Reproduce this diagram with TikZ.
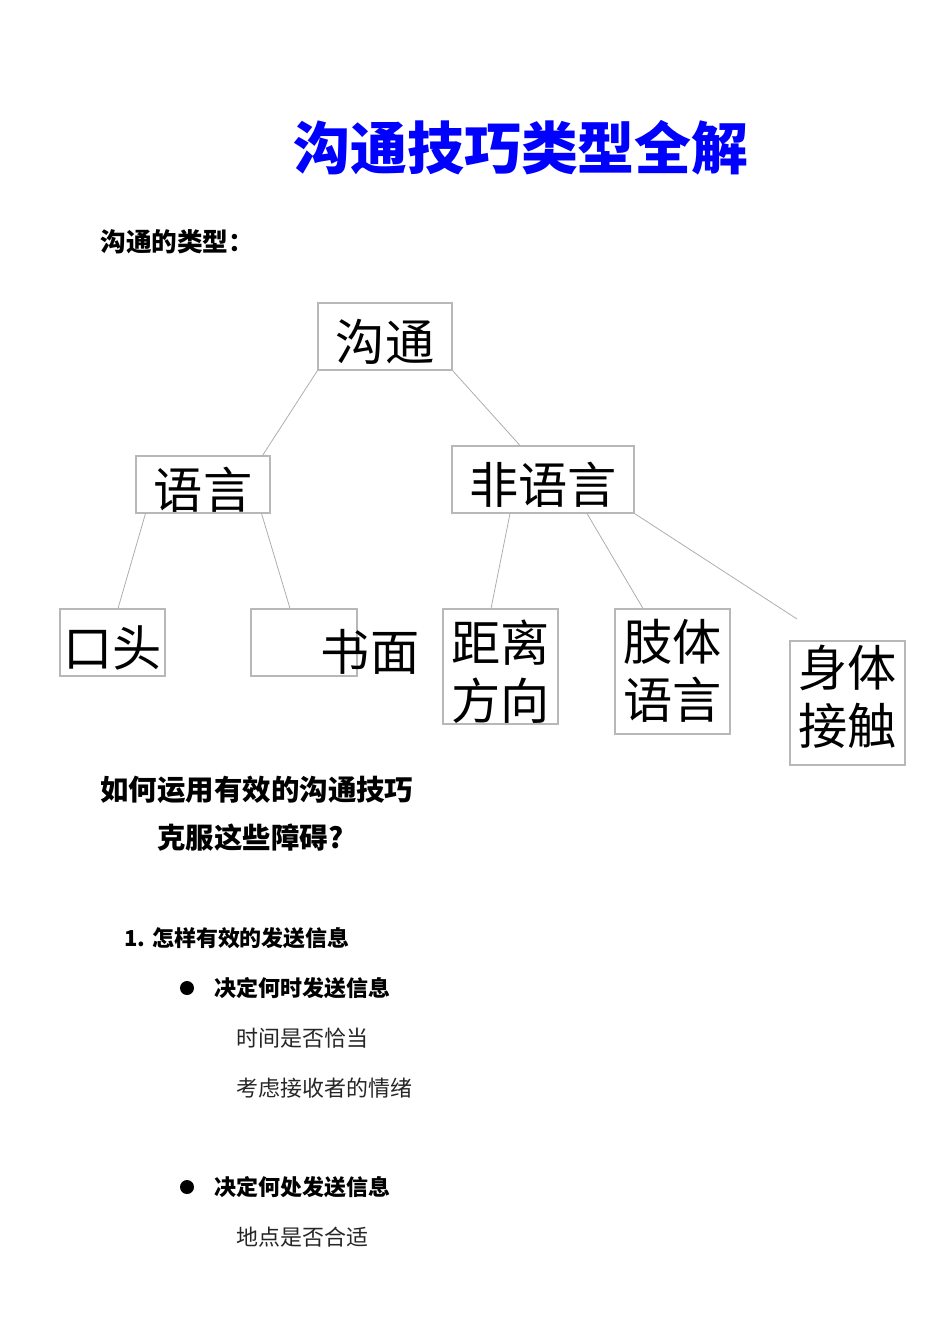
\documentclass[tikz,border=0pt]{standalone}
\usepackage{fontspec}
\newfontfamily\cjk{Noto Sans CJK SC}
\usetikzlibrary{positioning}

\begin{document}
\begin{tikzpicture}[x=0.02cm,y=-0.02cm,
    box/.style={draw=black!28,line width=0.6pt,inner sep=0pt,align=center,text height=30pt,
      font=\cjk\fontsize{28}{33}\selectfont},
    twoline/.style={box,text height=63pt},
    link/.style={draw=black!32,line width=0.45pt},
    head/.style={anchor=west,inner sep=0pt,font=\cjk\bfseries\fontsize{16.2}{20}\selectfont},
    item/.style={anchor=west,inner sep=0pt,font=\cjk\bfseries\fontsize{12.5}{15}\selectfont},
    plain/.style={anchor=west,inner sep=0pt,text=black!85,font=\cjk\fontsize{12.5}{15}\selectfont},
    dot/.style={circle,fill=black,inner sep=0pt,minimum size=0.28cm}]
    \useasboundingbox (0,0) rectangle (950,1344);
    % title
    \node[text=blue,font=\cjk\bfseries\fontsize{32.4}{38}\selectfont] (title) at (521,148) {沟通技巧类型全解};
    \node[anchor=west,inner sep=0pt,font=\cjk\bfseries\fontsize{14.6}{18}\selectfont] (types) at (100,242) {沟通的类型：};
    % tree
    \node[box,minimum width=2.68cm,minimum height=1.34cm] (gt) at (385,336.5) {沟通};
    \node[box,minimum width=2.68cm,minimum height=1.14cm,text height=29pt] (yy) at (203,484.5) {语言};
    \node[box,minimum width=3.64cm,minimum height=1.34cm] (fyy) at (543,479.5) {非语言};
    \node[box,minimum width=2.1cm,minimum height=1.34cm] (kt) at (112.5,642.5) {口头};
    \node[box,minimum width=2.12cm,minimum height=1.34cm] (sm) at (304,642.5) {};
    \node[box,draw=none] (smtext) at (370,646) {书面};
    \node[twoline,minimum width=2.3cm,minimum height=2.3cm] (jl) at (500.5,666.5) {距离\\方向};
    \node[twoline,minimum width=2.3cm,minimum height=2.5cm,text height=56pt] (zt) at (672.5,671.5) {肢体\\语言};
    \node[twoline,minimum width=2.3cm,minimum height=2.48cm,text height=49pt] (st) at (847.5,703) {身体\\接触};
    \coordinate (stend) at (797,619);
    \draw[link] (gt.south west) -- ([xshift=-0.16cm]yy.north east);
    \draw[link] (gt.south east) -- ([xshift=-0.46cm]fyy.north);
    \draw[link] ([xshift=0.2cm]yy.south west) -- ([xshift=0.11cm]kt.north);
    \draw[link] ([xshift=-0.18cm]yy.south east) -- ([xshift=-0.28cm]sm.north);
    \draw[link] ([xshift=-0.66cm]fyy.south) -- ([xshift=-0.19cm]jl.north);
    \draw[link] ([xshift=0.88cm]fyy.south) -- ([xshift=-0.59cm]zt.north);
    \draw[link] (fyy.south east) -- (stend);
    % text below
    \node[head] (q1) at (100,790) {如何运用有效的沟通技巧};
    \node[head] (q2) at (157,838) {克服这些障碍?};
    \node[item] (s1) at (124,938) {1. 怎样有效的发送信息};
    \node[dot] (b1) at (187,988) {};
    \node[item] (when) at (214,988) {决定何时发送信息};
    \node[plain] (t1) at (236,1038) {时间是否恰当};
    \node[plain] (t2) at (236,1088) {考虑接收者的情绪};
    \node[dot] (b2) at (187,1187) {};
    \node[item] (where) at (214,1187) {决定何处发送信息};
    \node[plain] (t3) at (236,1237) {地点是否合适};
\end{tikzpicture}
\end{document}
